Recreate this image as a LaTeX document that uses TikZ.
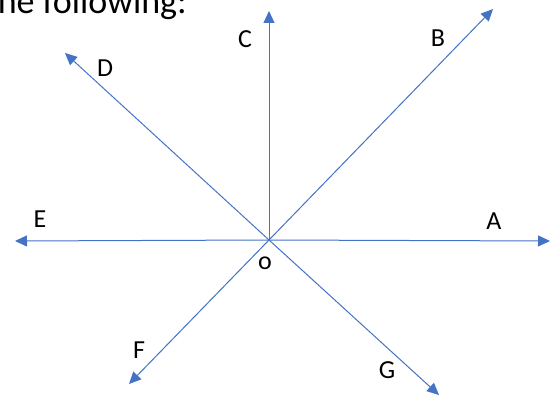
\documentclass[tikz,border=0pt]{standalone}
\usepackage{fontspec}
\setmainfont{Carlito}
\usetikzlibrary{arrows.meta}

\begin{document}
\begin{tikzpicture}[
  x=1pt, y=-1pt,
  every node/.style={font=\fontsize{26}{30}\selectfont, inner sep=0pt},
  ray/.style={-{Triangle[length=12pt, width=11pt]}, draw={rgb,255:red,68;green,114;blue,196},
              line width=1pt},
]
  \useasboundingbox (0,0) rectangle (559,398);
  \clip (0,0) rectangle (559,398);

  % Heading, cut off at the top
  \node[anchor=base east, font=\fontsize{36}{40}\selectfont] (head) at (187,14) {the following:};

  % Centre and ray ends
  \coordinate (o) at (269,240);
  \coordinate (tipA) at (550,241);
  \coordinate (tipB) at (493,9);
  \coordinate (tipC) at (269,11);
  \coordinate (tipD) at (65,53);
  \coordinate (tipE) at (15,241);
  \coordinate (tipF) at (129,384);
  \coordinate (tipG) at (439,395);

  % Rays
  \foreach \r in {A,B,C,D,E,F,G}
    \draw[ray] (o) -- (tip\r);

  % Labels
  \node (labA) at (494,221) {A};
  \node (labB) at (438,38) {B};
  \node (labC) at (245,39) {C};
  \node (labD) at (105,68) {D};
  \node (labE) at (40,219) {E};
  \node (labF) at (139,350) {F};
  \node (labG) at (387,370) {G};
  \node (labO) at (265,263) {o};
\end{tikzpicture}
\end{document}
